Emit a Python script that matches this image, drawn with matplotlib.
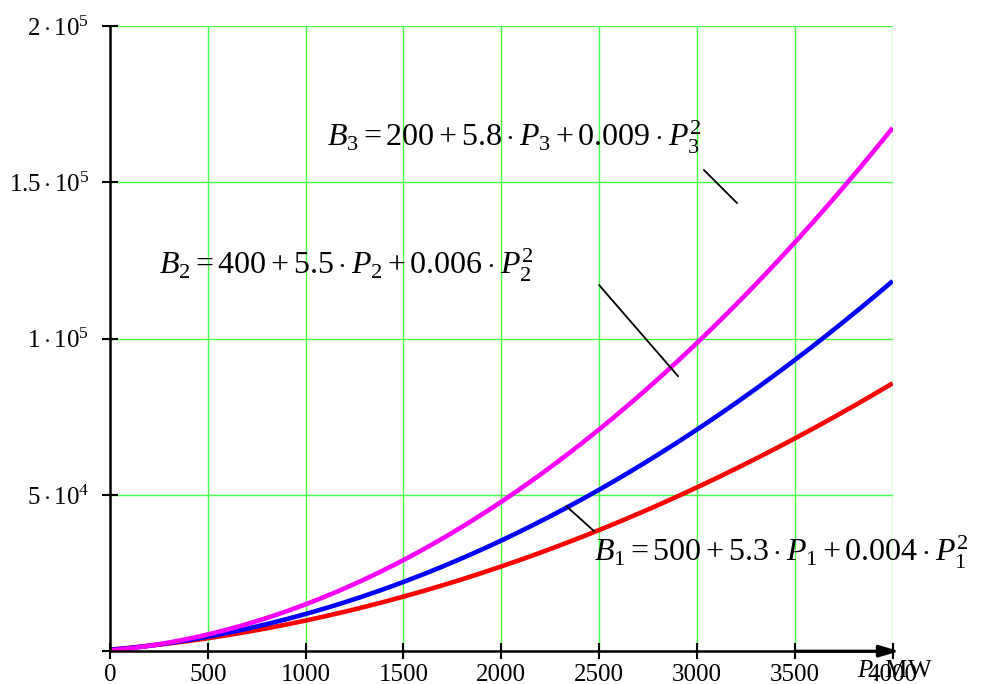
import numpy as np
import matplotlib
matplotlib.use("Agg")
import matplotlib.pyplot as plt

plt.rcParams["font.family"] = ["Liberation Serif", "DejaVu Serif"]
plt.rcParams["mathtext.fontset"] = "custom"
plt.rcParams["mathtext.rm"] = "Liberation Serif"
plt.rcParams["mathtext.it"] = "Liberation Serif:italic"

# Cost curve coefficients B = a + b*P + c*P^2 for units 1..3
units = [1, 2, 3]
coef_a = [500, 400, 200]
coef_b = [5.3, 5.5, 5.8]
coef_c = [0.004, 0.006, 0.009]
colors = ["#ff0000", "#0000ff", "#ff00ff"]

x_ticks = [0, 500, 1000, 1500, 2000, 2500, 3000, 3500, 4000]
y_ticks = [0, 50000, 100000, 150000, 200000]
y_labels = ["", r"$5\cdot10^4$", r"$1\cdot10^5$", r"$1.5\cdot10^5$", r"$2\cdot10^5$"]

# label text anchor (x, y) and leader line ends, data coords
label_pos = [(2475, 31500), (250, 123500), (1110, 164500)]
leader_lines = [((2332, 46400), (2474, 38400)),
                ((2500, 117100), (2903, 88000)),
                ((3036, 153900), (3204, 143400))]

P = np.linspace(0, 4000, 400)

fig = plt.figure(figsize=(9.82, 6.84), dpi=100)
ax = fig.add_axes([0.112, 0.048, 0.797, 0.914])

for u, a, b, c, col in zip(units, coef_a, coef_b, coef_c, colors):
    ax.plot(P, a + b * P + c * P ** 2, color=col, lw=3.3, zorder=3,
            solid_capstyle="butt")

ax.set_xlim(0, 4000)
ax.set_ylim(0, 200000)
ax.set_xticks(x_ticks)
ax.set_xticklabels([str(t) for t in x_ticks])
ax.set_yticks(y_ticks)
ax.set_yticklabels(y_labels)
ax.grid(True, color="#44ff44", lw=1.0, zorder=1)
ax.tick_params(direction="inout", length=12, width=1.5, labelsize=18,
               color="black", pad=3)
ax.tick_params(axis="y", pad=9)
for s in ("top", "right"):
    ax.spines[s].set_visible(False)
for s in ("left", "bottom"):
    ax.spines[s].set_linewidth(1.8)
    ax.spines[s].set_zorder(4)

# arrow head on the P axis
ax.annotate("", xy=(4035, 0), xytext=(3500, 0), xycoords="data",
            arrowprops=dict(arrowstyle="-|>,head_length=1.2,head_width=0.35",
                            color="black", lw=2.2, shrinkA=0, shrinkB=0),
            annotation_clip=False, zorder=5)
ax.text(3820, -2400, r"$P$, MW", fontsize=18, ha="left", va="top",
        clip_on=False)

for u, a, b, c, (lx, ly) in zip(units, coef_a, coef_b, coef_c, label_pos):
    txt = rf"$B_{u} = {a} + {b}\cdot P_{u} + {c:g}\cdot P_{u}^2$"
    ax.text(lx, ly, txt, fontsize=23, ha="left", va="center", zorder=6)

for (x0, y0), (x1, y1) in leader_lines:
    ax.plot([x0, x1], [y0, y1], color="black", lw=1.3, zorder=6)

fig.savefig("out.png", dpi=100)
